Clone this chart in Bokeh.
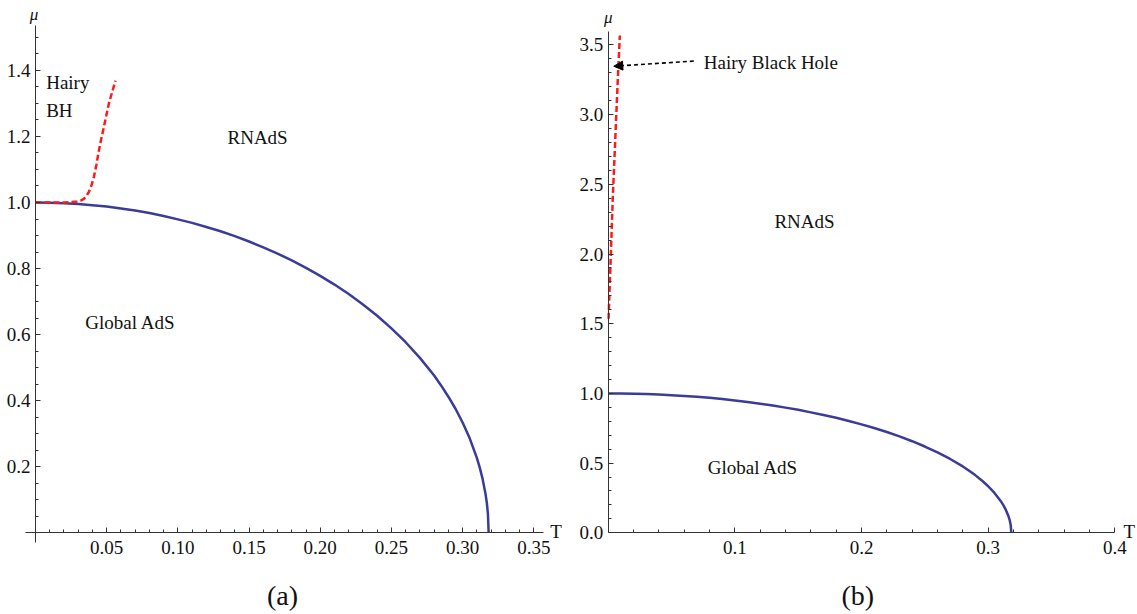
import numpy as np
from bokeh.plotting import figure
from bokeh.models import Range1d, FixedTicker, Label, Arrow, NormalHead, PrintfTickFormatter
from bokeh.layouts import row
from bokeh.embed import file_html
from bokeh.resources import INLINE

# ---- data ----
# phase boundary Global AdS / RNAdS (same in both panels)
boundary_T = [0.0, 0.01, 0.02, 0.03, 0.04, 0.05, 0.06, 0.07, 0.08, 0.09, 0.10, 0.11, 0.12,
              0.13, 0.14, 0.15, 0.16, 0.17, 0.18, 0.19, 0.20, 0.21, 0.22, 0.23, 0.24, 0.25,
              0.26, 0.27, 0.28, 0.285, 0.29, 0.295, 0.30, 0.305, 0.31, 0.312, 0.314, 0.316,
              0.317, 0.3178, 0.3183]
boundary_mu = [1.0, 0.9995, 0.998, 0.9956, 0.992, 0.9876, 0.982, 0.9755, 0.968, 0.9592, 0.949,
               0.9384, 0.926, 0.9128, 0.898, 0.882, 0.864, 0.8454, 0.825, 0.8023, 0.778,
               0.7515, 0.723, 0.6914, 0.657, 0.619, 0.577, 0.5296, 0.476, 0.4454, 0.412,
               0.3756, 0.334, 0.286, 0.227, 0.198, 0.164, 0.120, 0.091, 0.0565, 0.0]

# hairy black hole line, panel (a)
hairy_a_T = [0.0, 0.010, 0.020, 0.0293, 0.0320, 0.0339, 0.0356, 0.0374, 0.0392, 0.0410,
             0.0428, 0.0445, 0.0462, 0.0480, 0.0497, 0.0515, 0.0538, 0.0562]
hairy_a_mu = [1.0, 1.0, 1.0, 1.003, 1.006, 1.011, 1.019, 1.031, 1.050, 1.077,
              1.115, 1.157, 1.193, 1.228, 1.263, 1.299, 1.334, 1.369]

# hairy black hole line, panel (b)
hairy_b_T = [0.0003, 0.0009, 0.0021, 0.0036, 0.0050, 0.0064, 0.0078, 0.0092]
hairy_b_mu = [1.535, 1.70, 2.00, 2.40, 2.70, 3.00, 3.30, 3.567]

a_xticks = [0.05, 0.10, 0.15, 0.20, 0.25, 0.30, 0.35]
a_yticks = [0.2, 0.4, 0.6, 0.8, 1.0, 1.2, 1.4]
b_xticks = [0.1, 0.2, 0.3, 0.4]
b_yticks = [0.0, 0.5, 1.0, 1.5, 2.0, 2.5, 3.0, 3.5]

FONT = "'Liberation Serif', 'Times New Roman', serif"
BLUE = "#3b3b98"
RED = "#ff1a1a"
AXIS = "#333333"


def style(p, xt, xminor, yt, yminor, xfmt, yfmt, xb, yb):
    p.grid.visible = False
    p.outline_line_color = None
    p.background_fill_color = "white"
    p.border_fill_color = "white"
    for ax, ticks, minor, fmt, bnd in ((p.xaxis[0], xt, xminor, xfmt, xb),
                                       (p.yaxis[0], yt, yminor, yfmt, yb)):
        ax.ticker = FixedTicker(ticks=ticks, minor_ticks=minor)
        ax.formatter = PrintfTickFormatter(format=fmt)
        ax.fixed_location = 0
        ax.bounds = bnd
        ax.axis_line_color = AXIS
        ax.axis_line_width = 1
        ax.major_tick_line_color = AXIS
        ax.minor_tick_line_color = AXIS
        ax.major_tick_in = 5
        ax.major_tick_out = 0
        ax.minor_tick_in = 3
        ax.minor_tick_out = 0
        ax.major_label_text_font = FONT
        ax.major_label_text_font_size = "19px"
        ax.major_label_text_color = "#111111"
    p.xaxis[0].major_label_standoff = 8
    p.yaxis[0].major_label_standoff = 5


def lab(p, x, y, text, size="19px", align="center", baseline="middle", style_="normal"):
    p.add_layout(Label(x=x, y=y, text=text, text_font=FONT, text_font_size=size,
                       text_align=align, text_baseline=baseline, text_color="#111111",
                       text_font_style=style_))


# ---------------- panel (a) ----------------
pa = figure(frame_width=568, frame_height=614,
            x_range=Range1d(-0.024584, 0.374377), y_range=Range1d(-0.24735, 1.61157),
            min_border=0, min_border_left=0, min_border_right=0, min_border_top=0,
            min_border_bottom=0, output_backend="svg", toolbar_location=None)
style(pa, a_xticks, list(np.round(np.arange(0.01, 0.351, 0.01), 3)),
      a_yticks, list(np.round(np.arange(0.05, 1.501, 0.05), 3)), "%.2f", "%.1f",
      (-0.0070, 0.3568), (-0.0303, 1.536))

pa.line(boundary_T, boundary_mu, line_color=BLUE, line_width=2.5, line_join="round")
pa.line(hairy_a_T, hairy_a_mu, line_color=RED, line_width=2.5, line_dash="6 3",
        line_join="round")

lab(pa, 0.0075, 1.364, "Hairy", align="left")
lab(pa, 0.0075, 1.279, "BH", align="left")
lab(pa, 0.156, 1.198, "RNAdS")
lab(pa, 0.0667, 0.637, "Global AdS")
lab(pa, 0.3615, 0.004, "T", align="left")
lab(pa, -0.001, 1.569, "\u03bc", size="17px", style_="italic")
lab(pa, 0.1735, -0.19, "(a)", size="28px")

# ---------------- panel (b) ----------------
pb = figure(frame_width=569, frame_height=614,
            x_range=Range1d(-0.031346, 0.417923), y_range=Range1d(-0.58608, 3.81851),
            min_border=0, min_border_left=0, min_border_right=0, min_border_top=0,
            min_border_bottom=0, output_backend="svg", toolbar_location=None)
style(pb, b_xticks, list(np.round(np.arange(0.02, 0.381, 0.02), 3)),
      b_yticks, list(np.round(np.arange(0.1, 3.51, 0.1), 3)), "%.1f", "%.1f",
      (0.0, 0.4), (0.0, 3.594))

pb.line(boundary_T, boundary_mu, line_color=BLUE, line_width=2.5, line_join="round")
pb.line(hairy_b_T, hairy_b_mu, line_color=RED, line_width=2.5, line_dash="6 3",
        line_join="round")

pb.add_layout(Arrow(end=NormalHead(size=9, fill_color="black", line_color="black"),
                    x_start=0.0676, y_start=3.384, x_end=0.0044, y_end=3.347,
                    line_color="black", line_width=1.6, line_dash="4 3"))

lab(pb, 0.0755, 3.372, "Hairy Black Hole", align="left")
lab(pb, 0.155, 2.233, "RNAdS")
lab(pb, 0.1143, 0.468, "Global AdS")
lab(pb, 0.4069, 0.01, "T", align="left")
lab(pb, 0.0, 3.70, "\u03bc", size="17px", style_="italic")
lab(pb, 0.197, -0.45, "(b)", size="28px")

layout = row(pa, pb)
open("out.html", "w").write(file_html(layout, INLINE))
